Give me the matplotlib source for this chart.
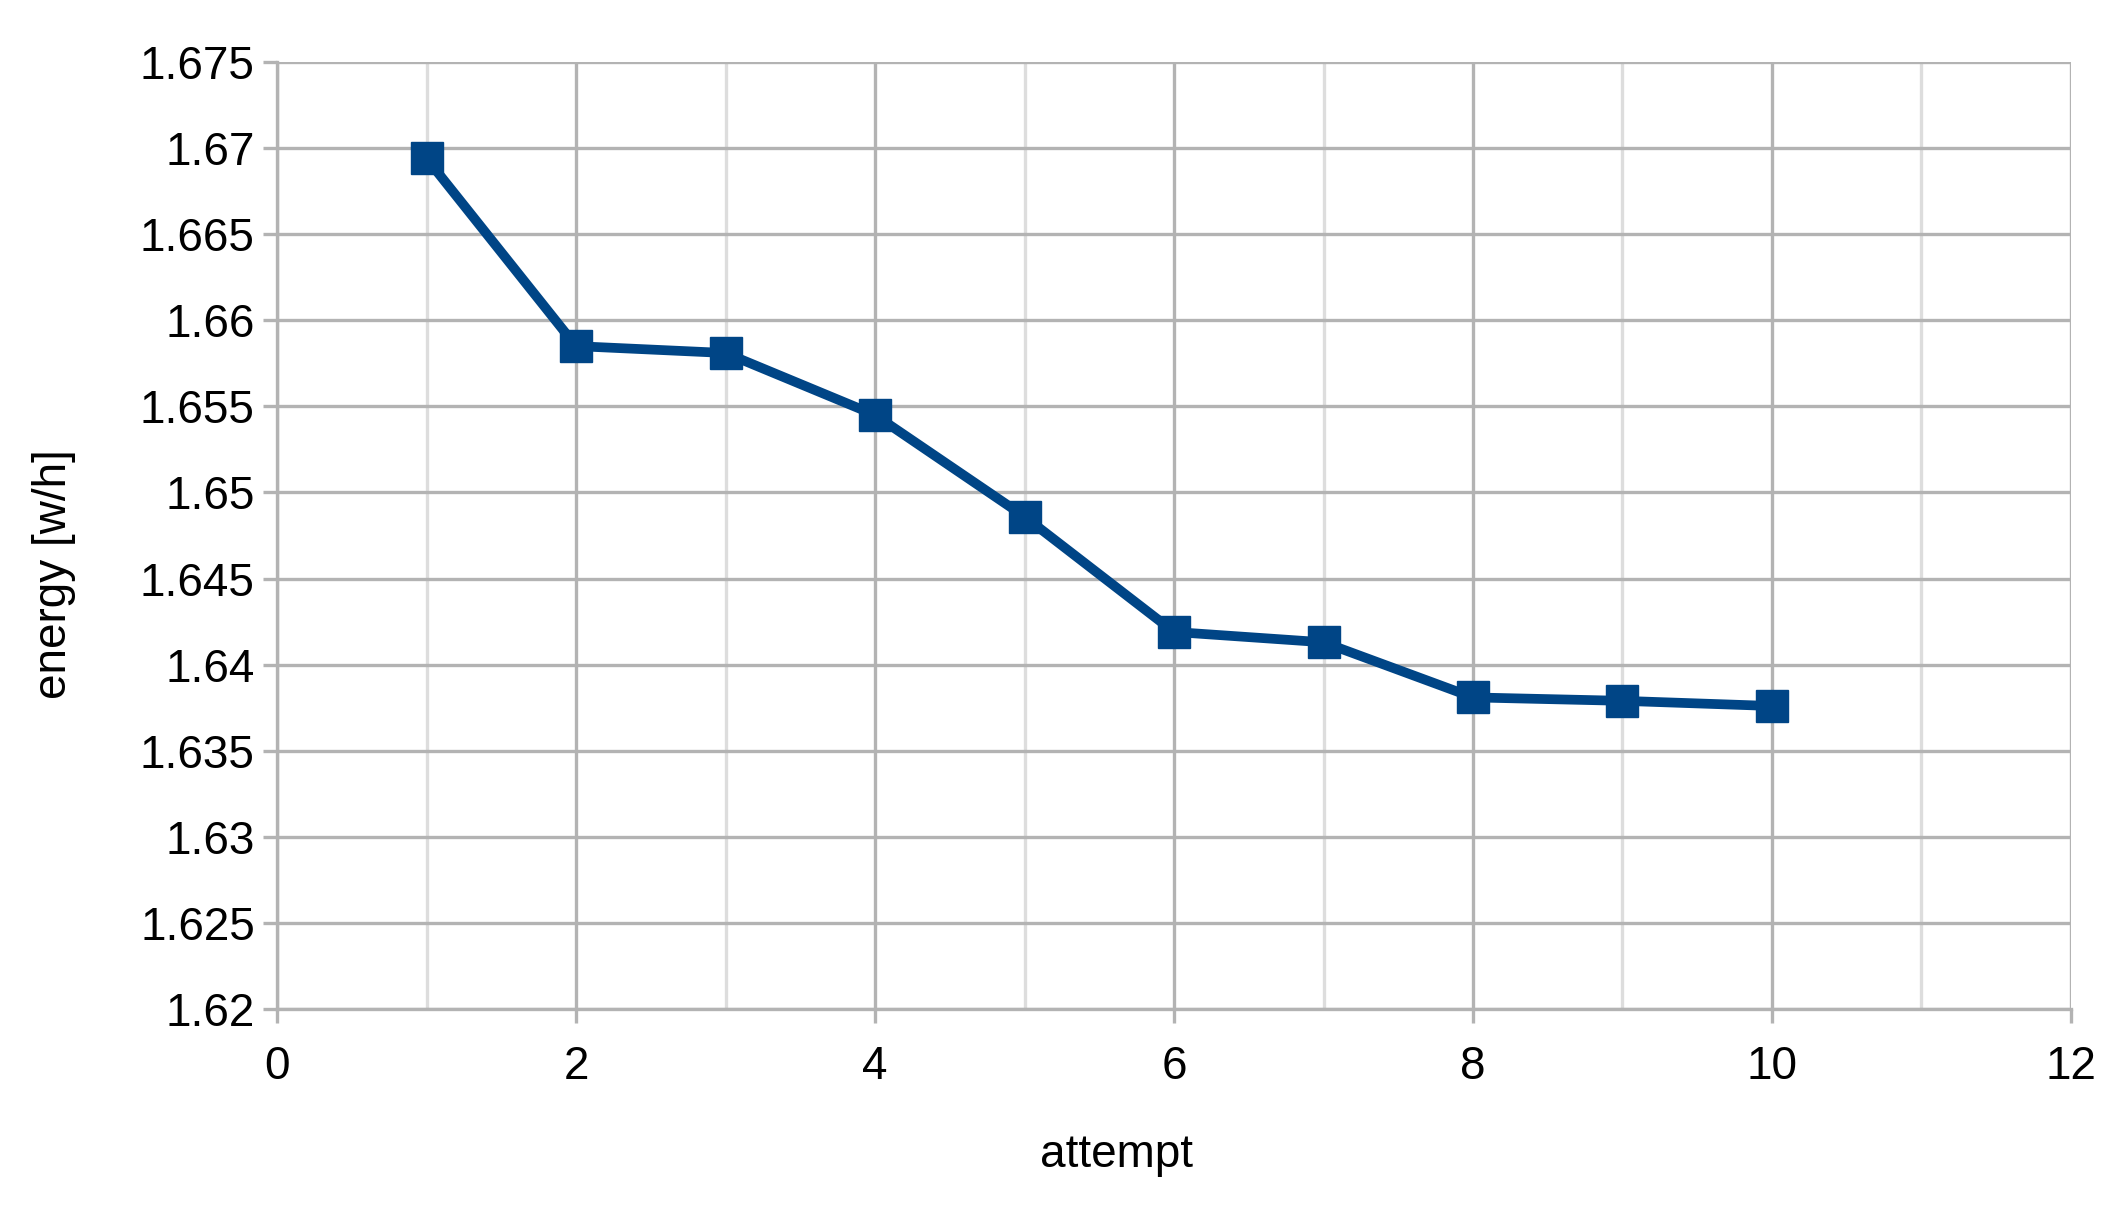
import numpy as np
import matplotlib
matplotlib.use("Agg")
from matplotlib import pyplot as plt
from matplotlib.ticker import MultipleLocator

attempt = [1, 2, 3, 4, 5, 6, 7, 8, 9, 10]
energy = [1.6694, 1.6585, 1.6581, 1.6545, 1.6486, 1.6419, 1.6413, 1.6381, 1.6379, 1.6376]
y_ticks = [1.62, 1.625, 1.63, 1.635, 1.64, 1.645, 1.65, 1.655, 1.66, 1.665, 1.67, 1.675]
y_labels = ["1.62", "1.625", "1.63", "1.635", "1.64", "1.645", "1.65", "1.655",
            "1.66", "1.665", "1.67", "1.675"]

plt.rcParams['font.family'] = ['Liberation Sans', 'DejaVu Sans']

major_grid = "#b3b3b3"
minor_grid = "#dddddd"

fig = plt.figure(figsize=(21.18, 12.06), dpi=100)
ax = fig.add_axes([0.1308, 0.1633, 0.9778 - 0.1308, 0.9486 - 0.1633])

ax.plot(attempt, energy, color="#004586", linewidth=7, marker="s",
        markersize=23, zorder=3, clip_on=False)

ax.set_xlim(0, 12)
ax.set_ylim(1.62, 1.675)
ax.xaxis.set_major_locator(MultipleLocator(2))
ax.xaxis.set_minor_locator(MultipleLocator(1))
ax.set_yticks(y_ticks)
ax.set_yticklabels(y_labels)

ax.grid(which="major", color=major_grid, linewidth=2.4)
ax.grid(which="minor", axis="x", color=minor_grid, linewidth=2.4)
ax.set_axisbelow(True)

for side in ["top", "right"]:
    ax.spines[side].set_visible(False)
for side in ["left", "bottom"]:
    ax.spines[side].set_color(major_grid)
    ax.spines[side].set_linewidth(2.4)

ax.tick_params(which="major", direction="out", length=10, width=2.4,
               color=major_grid, labelsize=33)
ax.tick_params(axis="x", pad=16)
ax.tick_params(axis="y", pad=6)
ax.tick_params(which="minor", length=0)

ax.set_xlabel("attempt", fontsize=33)
ax.set_ylabel("energy [w/h]", fontsize=33)
ax.xaxis.set_label_coords(0.468, -0.131)
ax.yaxis.set_label_coords(-0.112, 0.459)

fig.savefig("out.png", dpi=100)
